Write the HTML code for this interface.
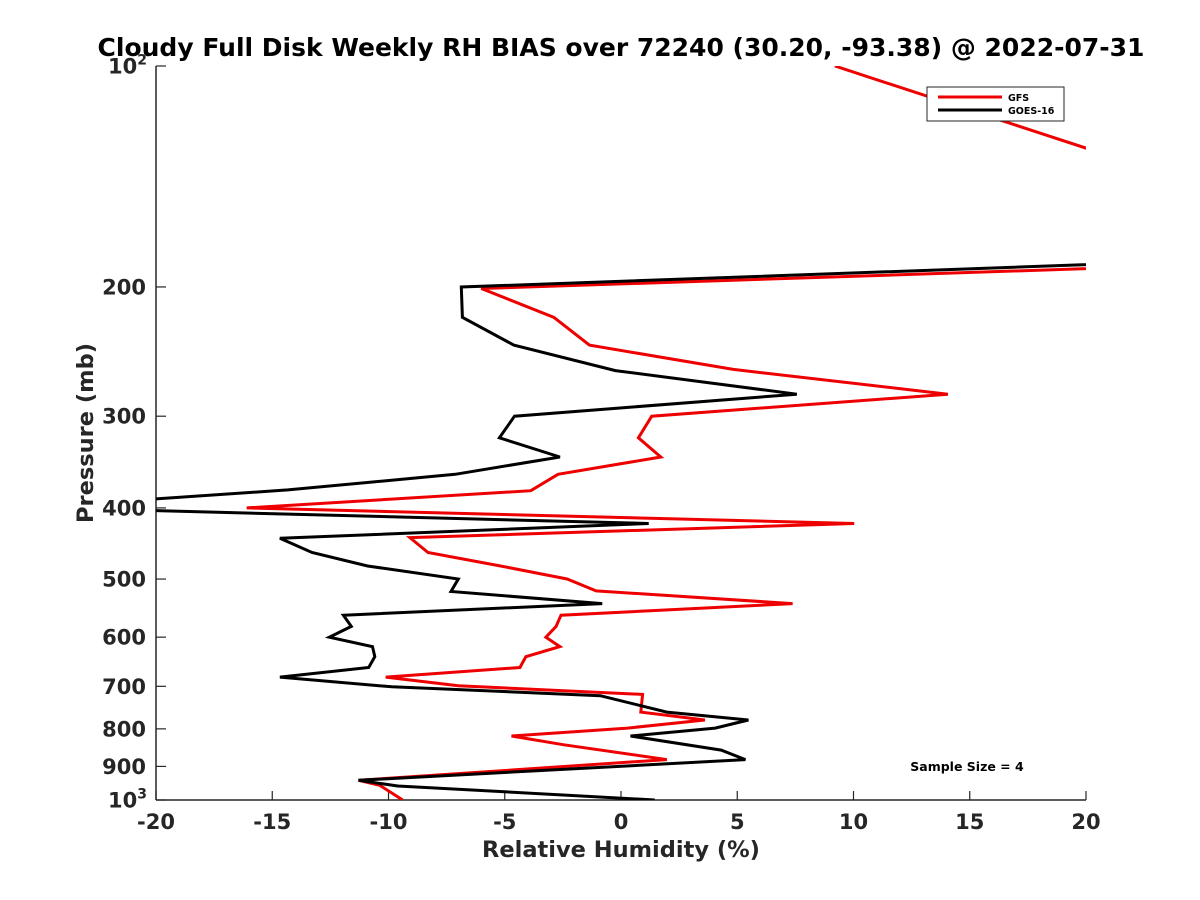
<!DOCTYPE html>
<html><head><meta charset="utf-8"><style>
body{margin:0;background:#fff;}
svg{display:block;font-family:"DejaVu Sans","Liberation Sans",sans-serif;font-weight:bold;}
</style></head><body>
<svg id="chart" width="1200" height="900" viewBox="0 0 1200 900">
<defs><clipPath id="clip"><rect x="156" y="66" width="930" height="734"/></clipPath></defs>
<rect width="1200" height="900" fill="#fff"/>
<text x="621" y="56" text-anchor="middle" font-size="25" fill="#000">Cloudy Full Disk Weekly RH BIAS over 72240 (30.20, -93.38) @ 2022-07-31</text>
<g id="axes"></g>
<g id="series" clip-path="url(#clip)"></g>
<text x="621" y="857" text-anchor="middle" font-size="22.5" fill="#262626">Relative Humidity (%)</text>
<text transform="translate(93,433) rotate(-90)" text-anchor="middle" font-size="22.5" fill="#262626">Pressure (mb)</text>
<g>
<rect x="927" y="87" width="137" height="34" fill="#fff" stroke="#262626" stroke-width="1"/>
<line x1="938" y1="97" x2="1002" y2="97" stroke="#e00" stroke-width="3"/>
<text x="1008" y="101" font-size="9.5" fill="#000">GFS</text>
<line x1="938" y1="110" x2="1002" y2="110" stroke="#000" stroke-width="3"/>
<text x="1008" y="114" font-size="9.5" fill="#000">GOES-16</text>
</g>
<text x="967" y="771" text-anchor="middle" font-size="12.5" fill="#000">Sample Size = 4</text>
</svg>
<script>
const xTicks=[-20,-15,-10,-5,0,5,10,15,20];
const yTicks=[100,200,300,400,500,600,700,800,900,1000];
const yTickLabels=["10^2","200","300","400","500","600","700","800","900","10^3"];
const gfsP=[100,150,180,201,220,240,259,280,300,321,341,360,379,400,420,439,460,480,500,519,540,560,580,600,618,638,660,680,699,718,759,778,798,818,841,881,940,955,1000];
const gfsV=[9.2,26.2,40,-6.01,-2.89,-1.36,4.83,14.06,1.32,0.75,1.71,-2.71,-3.88,-16.1,10.03,-9.08,-8.3,-5.18,-2.32,-1.07,7.38,-2.58,-2.79,-3.23,-2.63,-4.09,-4.35,-10.12,-7.0,0.93,0.85,3.61,0.28,-4.71,-2.45,1.97,-11.29,-10.38,-9.39];
const goesP=[177,200,220,240,260,280,300,321,341,360,378,390,403,420,440,460,480,500,520,540,560,580,600,618,638,660,680,701,721,759,778,798,818,855,881,940,957,1000];
const goesV=[40,-6.87,-6.82,-4.61,-0.24,7.56,-4.58,-5.23,-2.63,-7.13,-14.33,-20.6,-20.6,1.19,-14.67,-13.29,-10.9,-7.0,-7.31,-0.81,-11.94,-11.6,-12.54,-10.69,-10.59,-10.85,-14.67,-9.86,-0.89,1.97,5.48,4.05,0.41,4.31,5.35,-11.29,-9.6,1.45];
const X=v=>156+(v+20)/40*930;
const Y=p=>66+(Math.log10(p)-2)*734;
const NS="http://www.w3.org/2000/svg";
const axes=document.getElementById('axes'),series=document.getElementById('series');
function mk(tag,attrs,parent){const e=document.createElementNS(NS,tag);for(const k in attrs)e.setAttribute(k,attrs[k]);parent.appendChild(e);return e;}
let a=mk('line',{x1:156,y1:66,x2:156,y2:800,stroke:'#262626','stroke-width':1.5},axes);


a=mk('line',{x1:156,y1:800,x2:1086,y2:800,stroke:'#262626','stroke-width':1.5},axes);


xTicks.forEach(v=>{
 const t=mk('line',{x1:X(v),y1:800,x2:X(v),y2:791,stroke:'#262626','stroke-width':1.2},axes);
 
 
 const l=mk('text',{x:X(v),y:829,'text-anchor':'middle','font-size':21,fill:'#262626'},axes);
 l.textContent=String(v);
 
 
});
yTicks.forEach((p,i)=>{
 const t=mk('line',{x1:156,y1:Y(p),x2:166,y2:Y(p),stroke:'#262626','stroke-width':1.2},axes);
 
 
 const lab=yTickLabels[i];
 const l=mk('text',{x:146,y:Y(p)+7.5,'text-anchor':'end','font-size':21,fill:'#262626'},axes);
 
 
 if(lab.includes('^')){
  const [b,e]=lab.split('^');
  l.setAttribute('x',147);
  l.textContent=b;
  const s=mk('tspan',{dy:-9,'font-size':14},l);s.textContent=e;
 } else l.textContent=lab;
});
function drawLine(vs,ps,color,name){
 const d=vs.map((v,i)=>(i?'L':'M')+X(v).toFixed(1)+' '+Y(ps[i]).toFixed(1)).join(' ');
 const e=mk('path',{d:d,fill:'none',stroke:color,'stroke-width':3,'stroke-linejoin':'miter'},series);
 
 
}
drawLine(gfsV,gfsP,'#e00','gfs-line');
drawLine(goesV,goesP,'#000','goes16-line');
</script>
</body></html>
